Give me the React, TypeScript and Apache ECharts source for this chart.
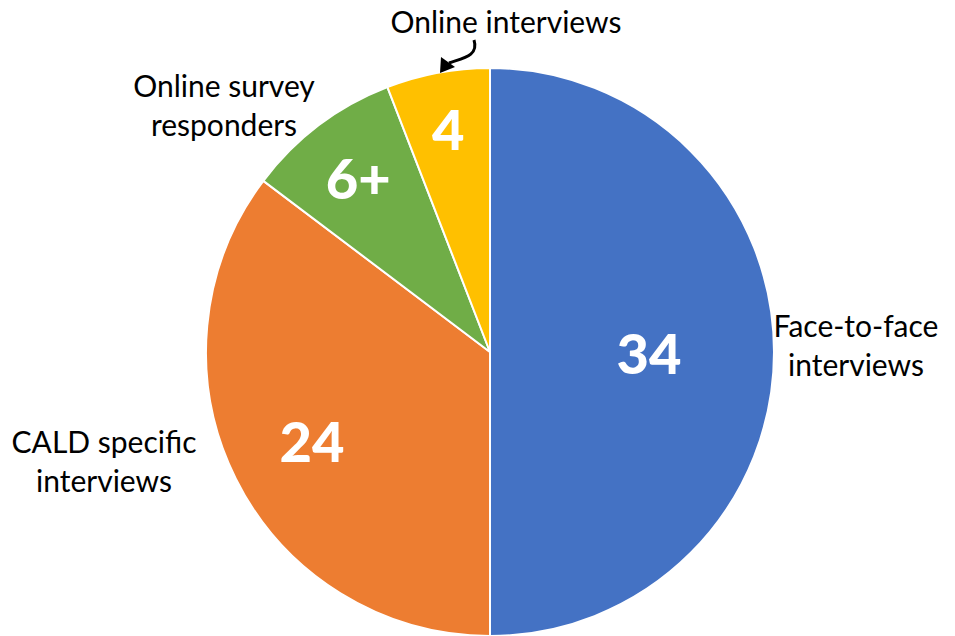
import React, { useEffect, useRef } from "react";
import * as echarts from "echarts";

const categories = ["Face-to-face interviews", "CALD specific interviews", "Online survey responders", "Online interviews"];
const values = [34, 24, 6, 4];
const valueLabels = ["34", "24", "6+", "4"];
const colors = ["#4472C4", "#ED7D31", "#70AD47", "#FFC000"];
const outerLabelLines = [
  ["Face-to-face", "interviews"],
  ["CALD specific", "interviews"],
  ["Online survey", "responders"],
  ["Online interviews"],
];

const CX = 490;
const CY = 352;
const R = 284;
const labelRatio = [0.56, 0.7, 0.77, 0.8];
const outerPos = [
  [856, 344],
  [104, 460],
  [224, 104],
  [506, 21],
];

export default function App() {
  const ref = useRef<HTMLDivElement>(null);
  useEffect(() => {
    document.body.style.margin = "0";
    const chart = echarts.init(ref.current!, undefined, { renderer: "svg" });
    const total = values.reduce((a, b) => a + b, 0);
    const cum: number[] = [];
    let s = 0;
    values.forEach((v) => {
      cum.push(s);
      s += v;
    });
    const font = "Lato, 'Noto Sans', sans-serif";
    const graphics: any[] = categories.map((_, i) => ({
      type: "text",
      x: outerPos[i][0],
      y: outerPos[i][1],
      style: {
        text: outerLabelLines[i].join("\n"),
        fill: "#000",
        font: `30px ${font}`,
        lineHeight: 39,
        align: "center",
        verticalAlign: "middle",
      },
      z: 10,
    }));
    graphics.push({
      type: "bezierCurve",
      shape: { x1: 474, y1: 40, cpx1: 479, cpy1: 56, cpx2: 463, cpy2: 58, x2: 449, y2: 63 },
      style: { stroke: "#000", lineWidth: 3, fill: "none" },
      z: 10,
    });
    graphics.push({
      type: "polygon",
      shape: { points: [[440, 73], [441, 57], [455, 67]] },
      style: { fill: "#000" },
      z: 10,
    });
    chart.setOption({
      animation: false,
      backgroundColor: "#fff",
      graphic: graphics,
      series: [
        {
          type: "pie",
          center: [CX, CY],
          radius: [0, R],
          startAngle: 90,
          clockwise: true,
          silent: true,
          itemStyle: { borderColor: "#fff", borderWidth: 2 },
          data: categories.map((name, i) => ({
            name,
            value: values[i],
            itemStyle: { color: colors[i] },
          })),
          label: {
            show: true,
            position: "inside",
            formatter: (p: any) => valueLabels[p.dataIndex],
            color: "#fff",
            fontSize: 56,
            fontWeight: 900,
            fontFamily: font,
          },
          labelLine: { show: false },
          labelLayout: (p: any) => {
            const i = p.dataIndex;
            const frac = (cum[i] + values[i] / 2) / total;
            const th = frac * Math.PI * 2;
            const d = R * labelRatio[i];
            return {
              x: CX + d * Math.sin(th),
              y: CY - d * Math.cos(th),
              align: "center",
              verticalAlign: "middle",
            };
          },
        },
      ],
    });
    return () => chart.dispose();
  }, []);
  return <div ref={ref} style={{ position: "fixed", left: 0, top: 0, width: 955, height: 636 }} />;
}
